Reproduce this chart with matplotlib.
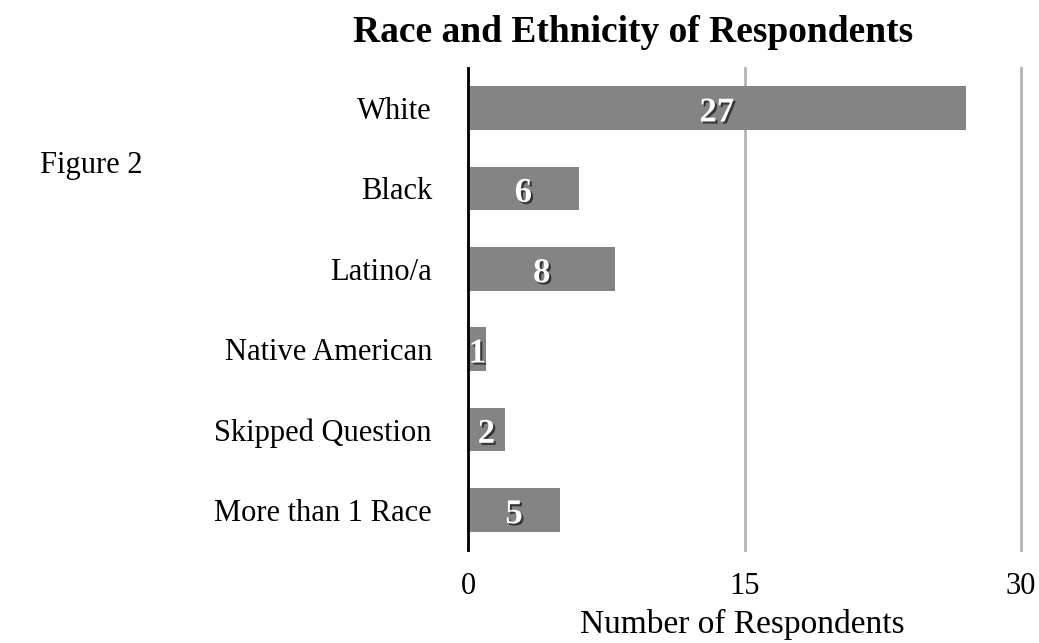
import matplotlib.pyplot as plt
import matplotlib.patheffects as pe

categories = ['White', 'Black', 'Latino/a', 'Native American', 'Skipped Question', 'More than 1 Race']
counts = [27, 6, 8, 1, 2, 5]
xticks = [0, 15, 30]

plt.rcParams['font.family'] = ['Liberation Serif', 'DejaVu Serif']

fig = plt.figure(figsize=(10.39, 6.43), dpi=100)
ax = fig.add_axes([468/1039, 1 - 550/643, (1021-468)/1039, (550-68)/643])

ypos = list(range(len(categories)))
ax.barh(ypos, counts, height=0.54, color='#848484', zorder=2)
ax.set_ylim(len(categories) - 0.5, -0.5)
ax.set_xlim(0, 30)

shadow = [pe.withSimplePatchShadow(offset=(1.5, -1.5), shadow_rgbFace='black', alpha=0.6)]
for y, v in zip(ypos, counts):
    ax.text(v / 2, y + 0.06, str(v), ha='center', va='center', color='white',
            fontsize=25, fontweight='bold', path_effects=shadow, zorder=3)

ax.set_yticks(ypos)
ax.set_yticklabels(categories, fontsize=22, va='center_baseline')
ax.set_xticks(xticks)
ax.set_xticklabels([str(t) for t in xticks], fontsize=22)
ax.tick_params(axis='both', length=0)
ax.tick_params(axis='y', pad=26)
ax.tick_params(axis='x', pad=16)

ax.xaxis.grid(True, color='#b4b4b4', linewidth=2, zorder=1)
for gl in ax.get_xgridlines():
    gl.set_clip_on(False)
ax.set_axisbelow(True)
for s in ['top', 'right', 'bottom']:
    ax.spines[s].set_visible(False)
ax.spines['left'].set_linewidth(2)
ax.spines['left'].set_color('black')
ax.spines['left'].set_zorder(4)

fig.text(742/1039, 1 - 624/643, 'Number of Respondents', ha='center', va='center', fontsize=24)
fig.text(633/1039, 1 - 32/643, 'Race and Ethnicity of Respondents', ha='center', va='center',
         fontsize=27, fontweight='bold')
fig.text(40/1039, 1 - 165/643, 'Figure 2', ha='left', va='center', fontsize=22)

fig.savefig('out.png', dpi=100)
